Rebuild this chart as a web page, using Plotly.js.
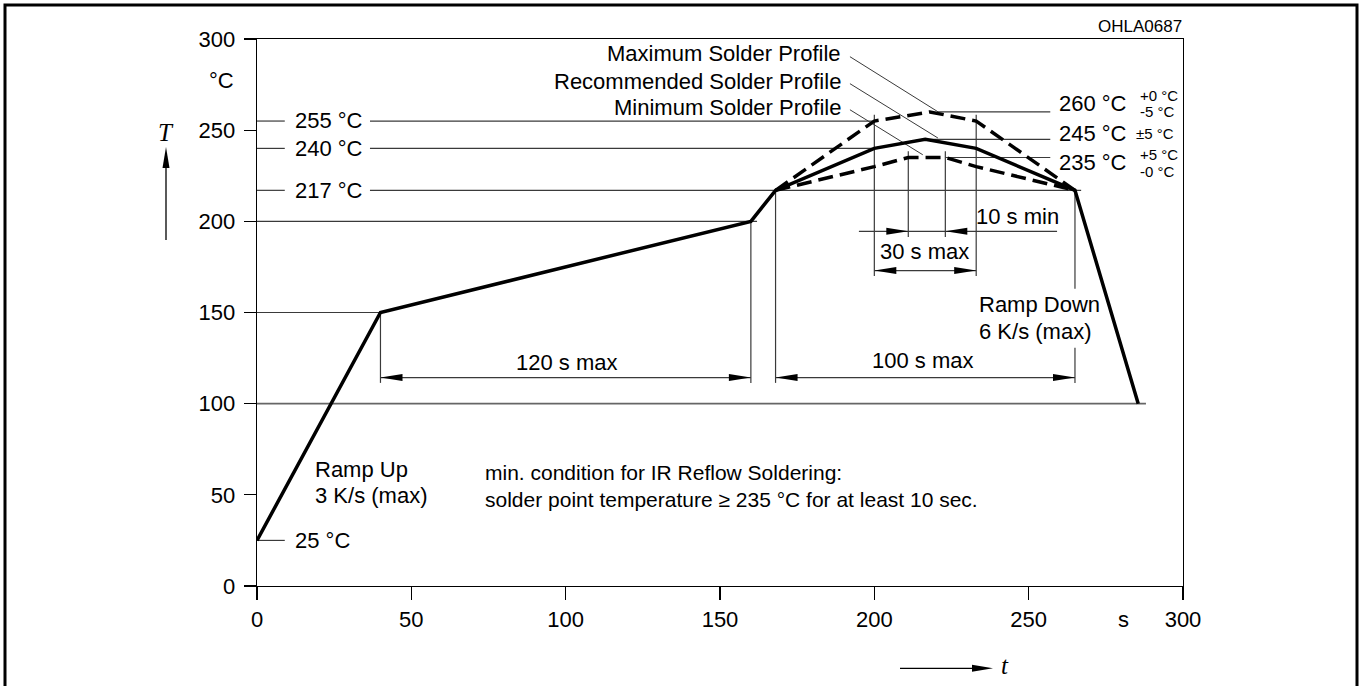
<!DOCTYPE html>
<html><head><meta charset="utf-8">
<script src="https://cdn.plot.ly/plotly-3.0.1.min.js"></script>
<style>html,body{margin:0;padding:0;background:#fff;} #chart{width:1364px;height:686px;}</style>
</head><body><div id="chart"></div>
<script>
// ---------------- data ----------------
const recTime = [0, 40, 160, 168, 200, 216.5, 233, 265, 285.5];
const recTemp = [25, 150, 200, 217, 240, 245, 240, 217, 100];
const maxTime = [168, 200, 218, 233, 265];
const maxTemp = [217, 255, 260, 255, 217];
const minTime = [168, 200, 211, 223, 233, 265];
const minTemp = [217, 230, 235, 235, 230, 217];
const xTicks = [0, 50, 100, 150, 200, 250, 300];
const yTicks = [0, 50, 100, 150, 200, 250, 300];
const profileLabels = ['Maximum Solder Profile', 'Recommended Solder Profile', 'Minimum Solder Profile'];
const peakLevels = [260, 245, 235];
const peakLabels = ['260 °C', '245 °C', '235 °C'];
const tolUpper = ['+0 °C', null, '+5 °C'];
const tolLower = ['-5 °C', null, '-0 °C'];
const tolMid = [null, '±5 °C', null];
const leftLevels = [255, 240, 217, 25];
const leftLabels = ['255 °C', '240 °C', '217 °C', '25 °C'];
const windowTimes = [200, 233];      // 30 s max window
const minWindowTimes = [211, 223];   // 10 s min window
const noteLines = ['min. condition for IR Reflow Soldering:', 'solder point temperature ≥ 235 °C for at least 10 sec.'];

// ---------------- geometry helpers ----------------
const W = 1364, H = 686, ML = 257, MR = 181, MT = 39, MB = 100;
const PW = W - ML - MR, PH = H - MT - MB;
const pxX = p => (p - ML) / PW;          // pixel -> paper
const pxY = p => (H - MB - p) / PH;
const FONT = 'Liberation Sans, Arial, Helvetica, sans-serif';
const INK = '#000';
const THIN = '#3a3a3a';

const shapes = [];
function seg(x0, y0, x1, y1, w, c) {
  shapes.push({type: 'line', xref: 'x', yref: 'y', x0, y0, x1, y1, layer: 'below',
    line: {color: c || THIN, width: w || 1.2}});
}
function head(x, y, dir) { // dir 1: points right, -1: points left
  const len = 22, hw = 3.5;
  shapes.push({type: 'path', xref: 'x', yref: 'y', xsizemode: 'pixel', ysizemode: 'pixel',
    xanchor: x, yanchor: y, path: `M0,0L${-dir * len},${hw}L${-dir * len},${-hw}Z`,
    fillcolor: INK, line: {width: 0}});
}
function dim(x0, x1, y) { seg(x0, y, x1, y); head(x0, y, -1); head(x1, y, 1); }

// left temperature markers
leftLevels.forEach((v, i) => {
  seg(0, v, 9, v);
});
seg(36.6, leftLevels[0], windowTimes[0], leftLevels[0]);
seg(36.6, leftLevels[1], recTime[4], leftLevels[1]);
seg(36.6, leftLevels[2], 267, leftLevels[2]);
seg(0, recTemp[2], 162, recTemp[2]);
seg(0, recTemp[1], recTime[1], recTemp[1]);
seg(0, recTemp[8], 288, recTemp[8], 1.6, '#666');
// peak markers
seg(220.5, peakLevels[0], 257, peakLevels[0]);
seg(recTime[5], peakLevels[1], 257, peakLevels[1]);
seg(minTime[3], peakLevels[2], 257, peakLevels[2]);
// extension lines
const dimY = 114.3;
seg(recTime[1], recTemp[1], recTime[1], 111.4);
seg(recTime[2], recTemp[2], recTime[2], 111.4);
seg(recTime[3], recTemp[3], recTime[3], 111.4);
seg(recTime[7], recTemp[7], recTime[7], 163);
seg(recTime[7], 130.6, recTime[7], 111.4);
windowTimes.forEach(t => seg(t, 258.5, t, 170));
minWindowTimes.forEach(t => seg(t, 238.5, t, 191.4));
// dimension arrows
dim(recTime[1], recTime[2], dimY);
dim(recTime[3], recTime[7], dimY);
dim(windowTimes[0], windowTimes[1], 173);
seg(195, 194.5, 259.2, 194.5);
head(minWindowTimes[0], 194.5, 1);
head(minWindowTimes[1], 194.5, -1);
// leader lines
seg(192.1, 290.3, 220.6, 260.1, 1);
seg(192.1, 275.5, 220.6, 245.7, 1);
seg(192.1, 261.2, 215.7, 236.5, 1);

// outer frame
shapes.push({type: 'path', xref: 'paper', yref: 'paper',
  path: `M${pxX(5)},${pxY(700)}L${pxX(5)},${pxY(5)}L${pxX(1357)},${pxY(5)}L${pxX(1357)},${pxY(700)}`,
  line: {color: INK, width: 3}});
// T arrow (y axis)
shapes.push({type: 'line', xref: 'paper', yref: 'paper', x0: pxX(166), x1: pxX(166), y0: pxY(240), y1: pxY(165),
  line: {color: INK, width: 1.3}});
shapes.push({type: 'path', xref: 'paper', yref: 'paper', fillcolor: INK, line: {width: 0},
  path: `M${pxX(166)},${pxY(147)}L${pxX(162.5)},${pxY(168)}L${pxX(169.5)},${pxY(168)}Z`});
// t arrow (x axis)
shapes.push({type: 'line', xref: 'paper', yref: 'paper', x0: pxX(900), x1: pxX(975), y0: pxY(668.3), y1: pxY(668.3),
  line: {color: INK, width: 1.3}});
shapes.push({type: 'path', xref: 'paper', yref: 'paper', fillcolor: INK, line: {width: 0},
  path: `M${pxX(993)},${pxY(668.3)}L${pxX(972)},${pxY(664.8)}L${pxX(972)},${pxY(671.8)}Z`});

// ---------------- annotations ----------------
const ann = [];
function txt(x, y, text, xa, size, extra) {
  ann.push(Object.assign({x, y, xref: 'x', yref: 'y', text, showarrow: false, xanchor: xa || 'left',
    yanchor: 'middle', font: {family: FONT, size: size || 22, color: INK}, borderpad: 0}, extra || {}));
}
const leftLabelY = [255.4, 240, 217, 25.2];
leftLabels.forEach((s, i) => txt(12.1, leftLabelY[i], s, 'left'));
const profY = [292, 276.8, 262.7];
profileLabels.forEach((s, i) => txt(189.6, profY[i], s, 'right'));
const peakY = [264.7, 248.3, 232.4];
peakLabels.forEach((s, i) => txt(259.4, peakY[i], s, 'left'));
txt(285.8, 269.2, tolUpper[0], 'left', 15);
txt(285.8, 260.0, tolLower[0], 'left', 15);
txt(284.6, 248.3, tolMid[1], 'left', 15);
txt(285.8, 236.8, tolUpper[2], 'left', 15);
txt(285.8, 227.3, tolLower[2], 'left', 15);
txt(246.5, 202.7, '10 s min', 'center');
txt(216.4, 183.3, '30 s max', 'center');
txt(100.3, 122.4, '120 s max', 'center');
txt(215.8, 123.6, '100 s max', 'center');
txt(233.6, 154.2, 'Ramp Down', 'left');
txt(233.6, 139.6, '6 K/s (max)', 'left');
txt(18.6, 63.7, 'Ramp Up', 'left');
txt(18.6, 49.9, '3 K/s (max)', 'left');
txt(73.5, 62.0, noteLines[0], 'left', 21);
txt(73.5, 47.2, noteLines[1], 'left', 21);
// paper-positioned labels
function ptxt(xp, yp, text, xa, size, fam) {
  ann.push({x: pxX(xp), y: pxY(yp), xref: 'paper', yref: 'paper', text, showarrow: false, xanchor: xa,
    yanchor: 'middle', font: {family: fam || FONT, size: size, color: INK}, borderpad: 0});
}
ptxt(1123, 619, 's', 'center', 22);
ptxt(1183, 27, 'OHLA0687', 'right', 17);
ptxt(235, 80, '°C', 'right', 22);
ptxt(166, 132, '<i>T</i>', 'center', 25, 'Liberation Serif, Times New Roman, serif');
ptxt(1005, 665, '<i>t</i>', 'center', 25, 'Liberation Serif, Times New Roman, serif');

// ---------------- traces ----------------
const curveLine = {color: INK, width: 3.5};
const traces = [
  {x: maxTime, y: maxTemp, mode: 'lines', line: Object.assign({dash: '15px,7px'}, curveLine), hoverinfo: 'skip'},
  {x: minTime, y: minTemp, mode: 'lines', line: Object.assign({dash: '15px,7px'}, curveLine), hoverinfo: 'skip'},
  {x: recTime, y: recTemp, mode: 'lines', line: curveLine, hoverinfo: 'skip'}
];

const axisCommon = {showgrid: false, zeroline: false, showline: true, linecolor: INK, linewidth: 1.3,
  mirror: true, ticks: 'outside', tickcolor: INK, tickwidth: 1.3, fixedrange: true,
  tickfont: {family: FONT, size: 22, color: INK}};
const layout = {
  width: W, height: H, margin: {l: ML, r: MR, t: MT, b: MB},
  paper_bgcolor: '#fff', plot_bgcolor: '#fff', showlegend: false,
  xaxis: Object.assign({}, axisCommon, {range: [0, 300], tickvals: xTicks, ticktext: xTicks.map(String), ticklen: 13, ticklabelstandoff: 0}),
  yaxis: Object.assign({}, axisCommon, {range: [0, 300], tickvals: yTicks, ticktext: yTicks.map(String), ticklen: 12, ticklabelstandoff: 4}),
  shapes, annotations: ann
};
Plotly.newPlot('chart', traces, layout, {displayModeBar: false, staticPlot: true});
</script></body></html>
